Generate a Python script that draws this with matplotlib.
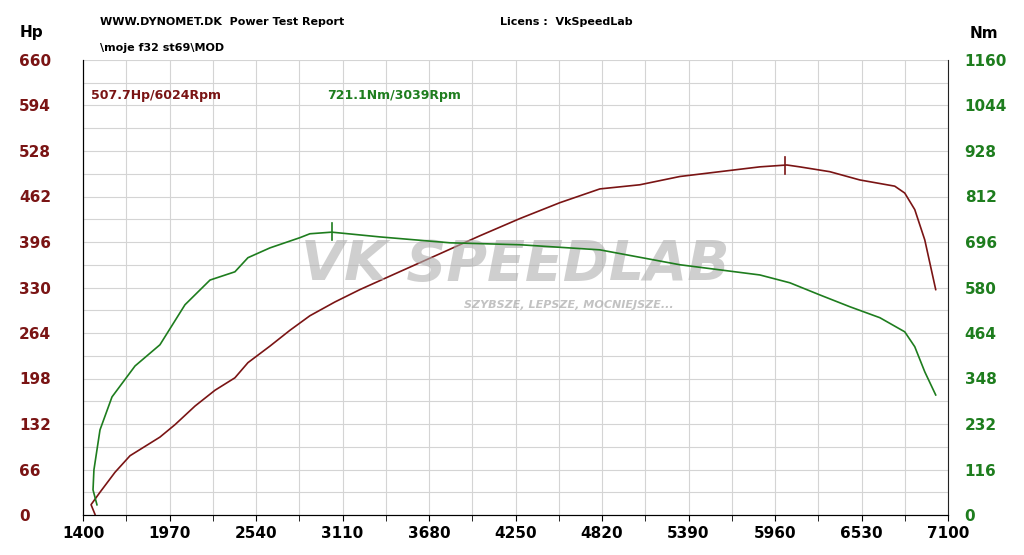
import numpy as np
import matplotlib.pyplot as plt

# power curve (Hp)
rpm_p = [1479, 1453, 1512, 1611, 1710, 1907, 2006, 2138, 2270, 2401, 2487, 2632, 2764, 2895, 3060,
         3225, 3488, 3752, 4015, 4279, 4542, 4806, 5069, 5333, 5596, 5860, 6038, 6123, 6321, 6519,
         6749, 6815, 6881, 6947, 7019]
hp = [1, 15, 33, 62, 86, 113, 131, 158, 181, 199, 221, 245, 268, 289, 309,
      327, 353, 379, 405, 430, 453, 473, 479, 491, 498, 505, 507.7, 505, 498, 486,
      477, 467, 443, 399, 327]
# torque curve (Nm)
rpm_t = [1492, 1466, 1472, 1512, 1591, 1743, 1907, 2072, 2237, 2401, 2487, 2632, 2829, 2895, 3039,
         3356, 3817, 4279, 4806, 5333, 5860, 6058, 6256, 6453, 6651, 6815, 6881, 6947, 7019]
nm = [26, 64, 115, 217, 301, 380, 434, 536, 599, 620, 656, 681, 707, 717, 721.1,
      709, 694, 689, 676, 638, 612, 592, 561, 531, 503, 467, 429, 365, 306]

red = '#7a1414'
green = '#1e7d1e'

fig = plt.figure(figsize=(10.24, 5.55), dpi=100)
ax = fig.add_axes([83/1024, 40/555, 865/1024, 455/555])
ax2 = ax.twinx()

ax.set_xlim(1400, 7100)
ax.set_ylim(0, 660)
ax2.set_ylim(0, 1160)
ax.set_xticks(np.arange(1400, 7101, 570))
ax.set_xticks(np.arange(1400, 7101, 285), minor=True)
ax.set_yticks(np.arange(0, 661, 66))
ax.set_yticks(np.arange(0, 661, 33), minor=True)
ax2.set_yticks(np.arange(0, 1161, 116))
ax.grid(True, which='both', color='#d4d4d4', lw=0.8)
ax.set_axisbelow(True)
for a in (ax, ax2):
    a.spines['top'].set_visible(False)
    a.spines['right'].set_visible(False)
ax.spines['left'].set_color('#222222')
ax.spines['bottom'].set_color('#222222')
ax.tick_params(axis='x', which='both', length=4, labelsize=11, pad=4)
ax.tick_params(axis='y', which='both', length=0, labelsize=11, labelcolor=red, pad=46)
ax2.tick_params(axis='y', length=0, labelsize=11, labelcolor=green, pad=12)
for lab in ax.get_xticklabels() + ax.get_yticklabels() + ax2.get_yticklabels():
    lab.set_fontweight('bold')
for lab in ax.get_yticklabels():
    lab.set_horizontalalignment('left')
ax2.spines['right'].set_visible(True)
ax2.spines['right'].set_color('#222222')

# watermark
ax.text(4250, 362, 'VK SPEEDLAB', fontsize=40, fontweight='bold', fontstyle='italic',
        color='#b0b0b0', alpha=0.6, ha='center', va='center')
ax.text(4600, 305, 'SZYBSZE, LEPSZE, MOCNIEJSZE...', fontsize=8, fontweight='bold',
        fontstyle='italic', color='#a8a8a8', alpha=0.7, ha='center', va='center')

ax.plot(rpm_p, hp, color=red, lw=1.2)
ax2.plot(rpm_t, nm, color=green, lw=1.2)
ax.plot([6024, 6024], [495, 520], color=red, lw=1.2)
ax2.plot([3039, 3039], [700, 745], color=green, lw=1.2)

ax.text(1450, 608, '507.7Hp/6024Rpm', color=red, fontsize=9, fontweight='bold', va='center')
ax.text(3010, 608, '721.1Nm/3039Rpm', color=green, fontsize=9, fontweight='bold', va='center')

fig.text(100/1024, 1 - 22/555, 'WWW.DYNOMET.DK  Power Test Report', fontsize=8, fontweight='bold', va='center')
fig.text(500/1024, 1 - 22/555, 'Licens :  VkSpeedLab', fontsize=8, fontweight='bold', va='center')
fig.text(100/1024, 1 - 48/555, '\\moje f32 st69\\MOD', fontsize=8, fontweight='bold', va='center')
fig.text(20/1024, 1 - 33/555, 'Hp', fontsize=11, fontweight='bold', va='center')
fig.text(970/1024, 1 - 33/555, 'Nm', fontsize=11, fontweight='bold', va='center')

fig.savefig('out.png', dpi=100)
